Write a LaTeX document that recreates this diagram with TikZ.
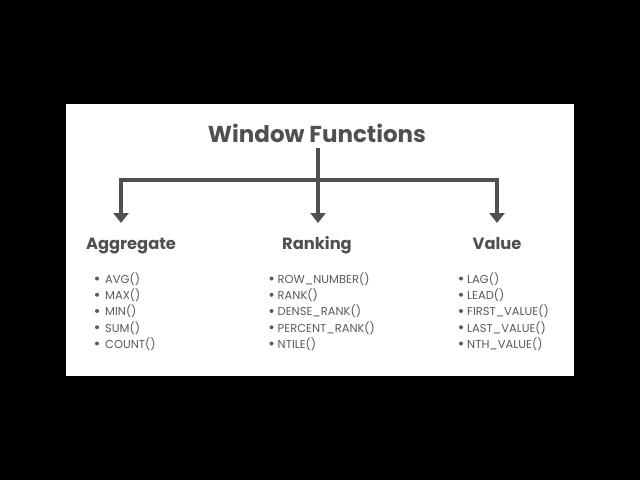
\documentclass[tikz,border=0pt]{standalone}
\usepackage{fontspec}
\setmainfont{Poppins}
\usetikzlibrary{arrows.meta}
\definecolor{ink}{HTML}{505050}
\definecolor{listink}{HTML}{5A5A5A}
\begin{document}
\begin{tikzpicture}[x=1pt,y=-1pt,
  conn/.style={draw=ink,line width=3.5pt},
  arr/.style={conn,-{Triangle[width=15pt,length=10pt]}},
  head/.style={text=ink,font=\fontsize{16.3}{20}\selectfont\bfseries,inner sep=0pt,anchor=base},
  lst/.style={text=listink,font=\fontsize{11.5}{16.25}\selectfont,align=left,anchor=north west,inner sep=0pt},
  dot/.style={fill=listink}]
\fill[black] (0,0) rectangle (640,480);
\fill[white] (66,104) rectangle (574,376);
\useasboundingbox (0,0) rectangle (640,480);
\node[text=ink,font=\fontsize{23}{28}\selectfont\bfseries,inner sep=0pt] (title) at (317,133) {Window Functions};
\coordinate (top) at (318,148);
\coordinate (jl) at (121,180);
\coordinate (jm) at (318,180);
\coordinate (jr) at (497,180);
\coordinate (el) at (121,223);
\coordinate (em) at (318,223);
\coordinate (er) at (497,223);
\draw[conn] (top) -- (jm);
\draw[conn] ([xshift=-1.75pt]jl) -- ([xshift=1.75pt]jr);
\draw[arr] ([yshift=-1.75pt]jl) -- (el);
\draw[arr] (jm) -- (em);
\draw[arr] ([yshift=-1.75pt]jr) -- (er);
\node[head] (agg) at (131,249) {Aggregate};
\node[head] (rank) at (317,249) {Ranking};
\node[head] (val) at (497,249) {Value};
\node[lst] (l1) at (105,272.5) {AVG()\\MAX()\\MIN()\\SUM()\\COUNT()};
\node[lst] (l2) at (277.5,272.5) {ROW\_NUMBER()\\RANK()\\DENSE\_RANK()\\PERCENT\_RANK()\\NTILE()};
\node[lst] (l3) at (467,272.5) {LAG()\\LEAD()\\FIRST\_VALUE()\\LAST\_VALUE()\\NTH\_VALUE()};
\foreach \k in {0,...,4}{
  \fill[dot] (97,278.5+16.25*\k) circle (2pt);
  \fill[dot] (271.5,278.5+16.25*\k) circle (2pt);
  \fill[dot] (461,278.5+16.25*\k) circle (2pt);
}
\end{tikzpicture}
\end{document}
